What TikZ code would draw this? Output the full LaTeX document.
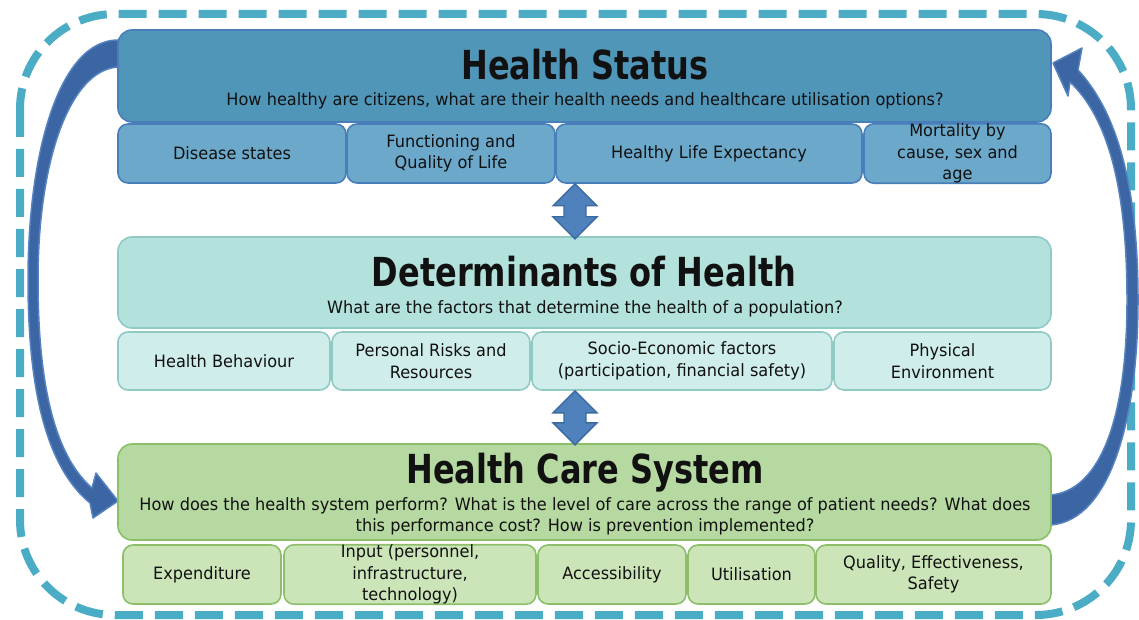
\documentclass[tikz,border=0pt]{standalone}
\usepackage{fontspec}
\setmainfont{DejaVu Sans}[FakeStretch=0.95]
\newfontfamily\titlefont{DejaVu Sans}[FakeStretch=0.8]
\usetikzlibrary{calc}
\definecolor{dashc}{HTML}{4BACC6}
\definecolor{arrF}{HTML}{3B66A3}
\definecolor{arrD}{HTML}{5582C0}
\definecolor{dblF}{HTML}{4F81BD}
\definecolor{dblD}{HTML}{3B6AA0}
\definecolor{hsH}{HTML}{5096B9}
\definecolor{hsS}{HTML}{6BA8CA}
\definecolor{hsD}{HTML}{4A7EBB}
\definecolor{dtH}{HTML}{B3E1DC}
\definecolor{dtS}{HTML}{CFEDEA}
\definecolor{dtD}{HTML}{8FCAC5}
\definecolor{hcH}{HTML}{B6D9A1}
\definecolor{hcS}{HTML}{CBE5B9}
\definecolor{hcD}{HTML}{8DBE6A}
\definecolor{txt}{HTML}{111111}
\tikzset{
  base/.style={rounded corners=10pt, line width=1.6pt, inner sep=0pt, align=center,
    font=\fontsize{17}{21.5}\selectfont, text=txt},
  hsh/.style={base, draw=hsD, fill=hsH, rounded corners=14pt},
  hss/.style={base, draw=hsD, fill=hsS},
  dth/.style={base, draw=dtD, fill=dtH, rounded corners=14pt},
  dts/.style={base, draw=dtD, fill=dtS},
  hch/.style={base, draw=hcD, fill=hcH, rounded corners=14pt},
  hcs/.style={base, draw=hcD, fill=hcS},
  ttl/.style={font=\titlefont\bfseries\fontsize{40}{44}\selectfont, text=txt, inner sep=0pt, anchor=base},
  subt/.style={font=\fontsize{17}{21.5}\selectfont, text=txt, inner sep=0pt, anchor=base},
  loopdash/.style={draw=dashc, line width=8pt, dash pattern=on 28pt off 12pt, rounded corners=95pt},
  curvearrow/.style={fill=arrF, draw=arrD, line width=1.5pt, line join=round},
  dblarrow/.style={fill=dblF, draw=dblD, line width=1.4pt, line join=miter},
}
\newcommand\bx[7]{\node[#1, minimum width={#5-#3}, minimum height={#6-#4}] (#2) at ({(#3+#5)/2},{(#4+#6)/2}) {#7};}
\begin{document}
\begin{tikzpicture}[x=1pt,y=-1pt]
\useasboundingbox (0,0) rectangle (1139,620);
% outer dashed loop
\draw[loopdash] (20,14) rectangle (1131,615);

% curved arrows
\draw[curvearrow] (118,40) .. controls (60,40) and (28,150) .. (28,280)
  .. controls (28,400) and (50,470) .. (90,503) -- (93,518) -- (118,501) -- (96,473) -- (92,488)
  .. controls (60,460) and (38,400) .. (38,280) .. controls (38,160) and (70,70) .. (118,67) -- cycle;
\draw[curvearrow] (1051,525) .. controls (1110,520) and (1138,420) .. (1138,300)
  .. controls (1138,180) and (1115,110) .. (1078,70) -- (1082,48) -- (1053,63) -- (1068,96) -- (1070,82)
  .. controls (1105,115) and (1127,180) .. (1127,300) .. controls (1127,420) and (1100,490) .. (1051,495) -- cycle;

% Health Status
\bx{hsh}{hs}{118}{30}{1051}{122}{}
\node[ttl] (hsT) at (585,80) {Health Status};
\node[subt] (hsQ) at (585,106) {How healthy are citizens, what are their health needs and healthcare utilisation options?};
\bx{hss}{hs1}{118}{124}{346}{183}{Disease states}
\bx{hss}{hs2}{347}{124}{555}{183}{Functioning and\\Quality of Life}
\bx{hss}{hs3}{556}{124}{862}{183}{Healthy Life Expectancy}
\bx{hss}{hs4}{864}{124}{1051}{183}{Mortality by\\cause, sex and\\age}

% Determinants
\bx{dth}{dt}{118}{237}{1051}{328}{}
\node[ttl] (dtT) at (584,286) {Determinants of Health};
\node[subt] (dtQ) at (585,313) {What are the factors that determine the health of a population?};
\bx{dts}{dt1}{118}{332}{330}{390}{Health Behaviour}
\bx{dts}{dt2}{332}{332}{530}{390}{Personal Risks and\\Resources}
\bx{dts}{dt3}{532}{332}{832}{390}{Socio-Economic factors\\(participation, financial safety)}
\bx{dts}{dt4}{834}{332}{1051}{390}{Physical\\Environment}

% Health Care System
\bx{hch}{hc}{118}{444}{1051}{540}{}
\node[ttl] (hcT) at (585,483) {Health Care System};
\node[subt] (hcQa) at (585,510) {How does the health system perform? What is the level of care across the range of patient needs? What does};
\node[subt] (hcQb) at (585,531) {this performance cost? How is prevention implemented?};
\bx{hcs}{hc1}{123}{545}{281}{604}{Expenditure}
\bx{hcs}{hc2}{284}{545}{536}{604}{Input (personnel,\\infrastructure,\\technology)}
\bx{hcs}{hc3}{538}{545}{686}{604}{Accessibility}
\bx{hcs}{hc4}{688}{545}{815}{604}{Utilisation}
\bx{hcs}{hc5}{816}{545}{1051}{604}{Quality, Effectiveness,\\Safety}

% double arrows between layers
\coordinate (ax) at (575,0);
\draw[dblarrow] ($(ax |- hs3.south)+(0,0)$) -- ++(22,22) -- ++(-11,0) -- ++(0,11) -- ++(11,0)
  -- ++(-22,22) -- ++(-22,-22) -- ++(11,0) -- ++(0,-11) -- ++(-11,0) -- cycle;
\draw[dblarrow] ($(ax |- dt3.south)+(0,0)$) -- ++(22,22) -- ++(-11,0) -- ++(0,10) -- ++(11,0)
  -- ++(-22,22) -- ++(-22,-22) -- ++(11,0) -- ++(0,-10) -- ++(-11,0) -- cycle;
\end{tikzpicture}
\end{document}
